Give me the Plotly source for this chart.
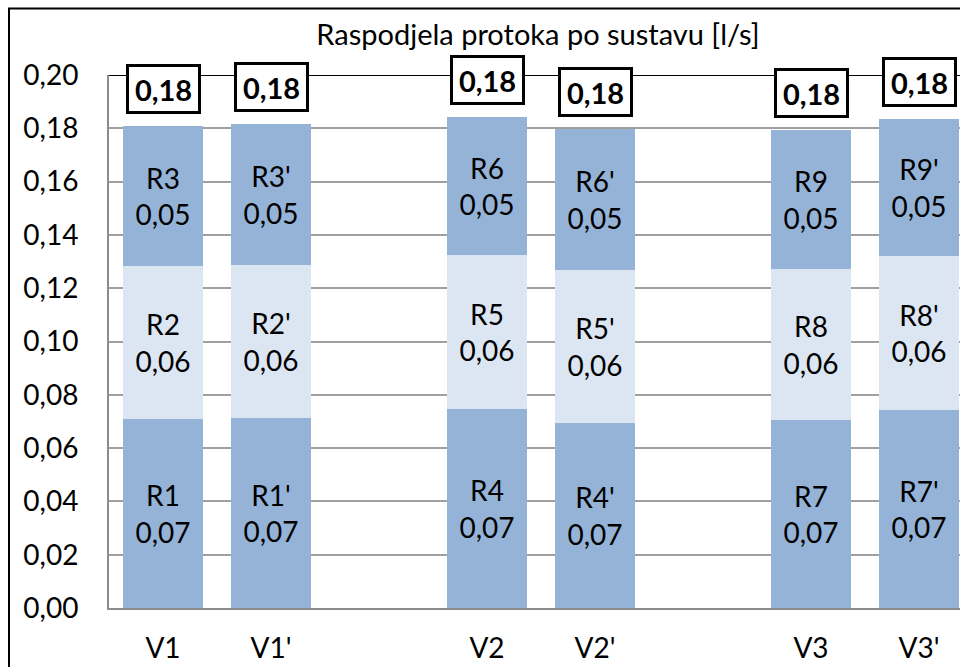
import plotly.graph_objects as go

# Slots along the x axis; the blank entries leave a gap between variant pairs
categories = ["V1", "V1'", " ", "V2", "V2'", "  ", "V3", "V3'"]

# Flow per branch [l/s], stacked bottom -> middle -> top
bottom_names = ["R1", "R1'", None, "R4", "R4'", None, "R7", "R7'"]
bottom_vals = [0.0709, 0.0714, None, 0.0747, 0.0694, None, 0.0705, 0.0743]

middle_names = ["R2", "R2'", None, "R5", "R5'", None, "R8", "R8'"]
middle_vals = [0.0574, 0.0573, None, 0.0578, 0.0574, None, 0.0567, 0.0578]

top_names = ["R3", "R3'", None, "R6", "R6'", None, "R9", "R9'"]
top_vals = [0.0526, 0.0529, None, 0.0517, 0.0530, None, 0.0522, 0.0514]

y_ticks = [0.00, 0.02, 0.04, 0.06, 0.08, 0.10, 0.12, 0.14, 0.16, 0.18, 0.20]

TITLE = "Raspodjela protoka po sustavu [l/s]"
FONT = "Lato"
DARK = "#95B3D7"
LIGHT = "#DCE6F2"

W, H = 960, 667
ML, MR, MT, MB = 109, 0, 75, 59
plot_w = W - ML - MR
plot_h = H - MT - MB
slot_px = 108


def fmt(v):
    return f"{v:.2f}".replace(".", ",")


fig = go.Figure()
for names, vals, color in [
    (bottom_names, bottom_vals, DARK),
    (middle_names, middle_vals, LIGHT),
    (top_names, top_vals, DARK),
]:
    fig.add_trace(go.Bar(
        x=categories,
        y=vals,
        text=names,
        texttemplate="%{text}<br>%{y:.2f}",
        textposition="inside",
        insidetextanchor="middle",
        textangle=0,
        textfont=dict(family=FONT, size=28, color="black"),
        marker=dict(color=color, line=dict(width=0)),
        showlegend=False,
        hoverinfo="skip",
    ))

# Boxed totals above each stack
for cat, a, b, c in zip(categories, bottom_vals, middle_vals, top_vals):
    if a is None:
        continue
    total = a + b + c
    fig.add_annotation(
        x=cat, y=total, xref="x", yref="y",
        text=f"<b>{fmt(total)}</b>",
        showarrow=False,
        yanchor="bottom", yshift=12,
        width=59, height=34, align="center", valign="middle",
        font=dict(family=FONT, size=29, color="black"),
        bgcolor="white", bordercolor="black", borderwidth=3, borderpad=5,
    )

# Dark line along the top of the value range
fig.add_shape(type="line", xref="paper", yref="y", x0=0, x1=1,
              y0=0.20, y1=0.20, line=dict(color="black", width=2), layer="above")


def px_to_paper_x(px):
    return (px - ML) / plot_w


def px_to_paper_y(py):
    return (H - MB - py) / plot_h


# Chart frame
fig.add_shape(type="rect", xref="paper", yref="paper",
              x0=px_to_paper_x(9), x1=px_to_paper_x(1000),
              y0=px_to_paper_y(720), y1=px_to_paper_y(8.5),
              line=dict(color="black", width=2), fillcolor="rgba(0,0,0,0)")

fig.update_layout(
    width=W, height=H,
    margin=dict(l=ML, r=MR, t=MT, b=MB, pad=0),
    paper_bgcolor="white", plot_bgcolor="white",
    barmode="stack", bargap=0.26,
    separators=",.",
    font=dict(family=FONT, size=28, color="black"),
    title=dict(text=TITLE, x=px_to_paper_x(538), xref="paper", xanchor="center",
               y=1 - 35 / H, yanchor="middle", yref="container",
               font=dict(family=FONT, size=29, color="black")),
    xaxis=dict(
        type="category", categoryorder="array", categoryarray=categories,
        range=[-0.5, -0.5 + plot_w / slot_px],
        showline=True, linecolor="#8c8c8c", linewidth=2,
        showgrid=False, ticks="", ticklabelstandoff=14,
        tickfont=dict(family=FONT, size=28, color="black"),
    ),
    yaxis=dict(
        range=[0, 0.20], tickvals=y_ticks, ticktext=[fmt(v) for v in y_ticks],
        showline=True, linecolor="#8c8c8c", linewidth=2,
        showgrid=True, gridcolor="#a0a0a0", gridwidth=1.5,
        zeroline=False, ticks="", ticklabelstandoff=23,
        tickfont=dict(family=FONT, size=28, color="black"),
    ),
)

fig.write_html("out.html")
